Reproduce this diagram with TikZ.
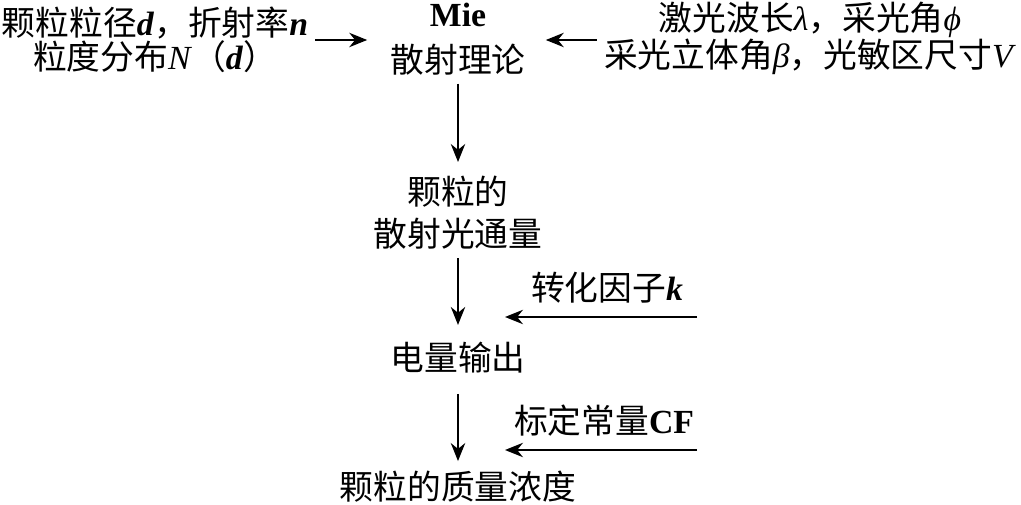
\documentclass[tikz,border=0pt]{standalone}
\usepackage{fontspec}
\setmainfont{Liberation Serif}
\newfontfamily\cjk{Noto Sans CJK SC}
\usetikzlibrary{arrows.meta, positioning}
\newcommand{\zh}[1]{{\cjk #1}}

\begin{document}
\begin{tikzpicture}[
    x=0.025cm, y=-0.025cm,
    txt/.style={align=center, inner sep=0pt, font=\fontsize{24}{30}\selectfont},
    sidetxt/.style={txt, font=\fontsize{24}{24}\selectfont},
    arrow/.style={-{Stealth[length=0.45cm, width=0.36cm]}, line width=1pt}
]
    \useasboundingbox (0,0) rectangle (1021,505);

    % 输入参数
    \node[sidetxt] (params) at (155,40) {\zh{颗粒粒径}\textbf{\textit{d}}\zh{，折射率}\textbf{\textit{n}}\\
        \zh{粒度分布}\textit{N}\zh{（}\textbf{\textit{d}}\zh{）}};
    \node[sidetxt] (optics) at (810,38) {\zh{激光波长}\textit{λ}\zh{，采光角}\textit{ϕ}\\
        \zh{采光立体角}\textit{β}\zh{，光敏区尺寸}\textit{V}};

    % 主流程
    \node[txt, font=\fontsize{24}{33}\selectfont] (mie) at (458,39) {\textbf{Mie}\\\zh{散射理论}};
    \node[txt] (flux) at (458,213) {\zh{颗粒的}\\\zh{散射光通量}};
    \node[txt] (elec) at (458,358) {\zh{电量输出}};
    \node[txt] (mass) at (458,487) {\zh{颗粒的质量浓度}};

    % 系数
    \node[txt] (kfac) at (607,288) {\zh{转化因子}\textbf{\textit{k}}};
    \node[txt] (cf) at (604,421) {\zh{标定常量}\textbf{CF}};
    \coordinate (kstart) at (697,317);
    \coordinate (kend) at (505,317);
    \coordinate (cstart) at (697,450);
    \coordinate (cend) at (505,450);

    % 箭头
    \draw[arrow, shorten <=0.175cm, shorten >=0.575cm] (params.east) -- (params.east -| mie.west);
    \draw[arrow, shorten <=0.175cm, shorten >=0.5cm] ([yshift=-0.05cm]optics.west) -- ([yshift=-0.05cm]optics.west -| mie.east);
    \draw[arrow, shorten <=0.2cm, shorten >=0.35cm] (mie) -- (flux);
    \draw[arrow, shorten <=0.2cm, shorten >=0.43cm] (flux) -- (elec);
    \draw[arrow, shorten <=0.5cm, shorten >=0.25cm] (elec) -- (mass);
    \draw[arrow] (kstart) -- (kend);
    \draw[arrow] (cstart) -- (cend);
\end{tikzpicture}
\end{document}
